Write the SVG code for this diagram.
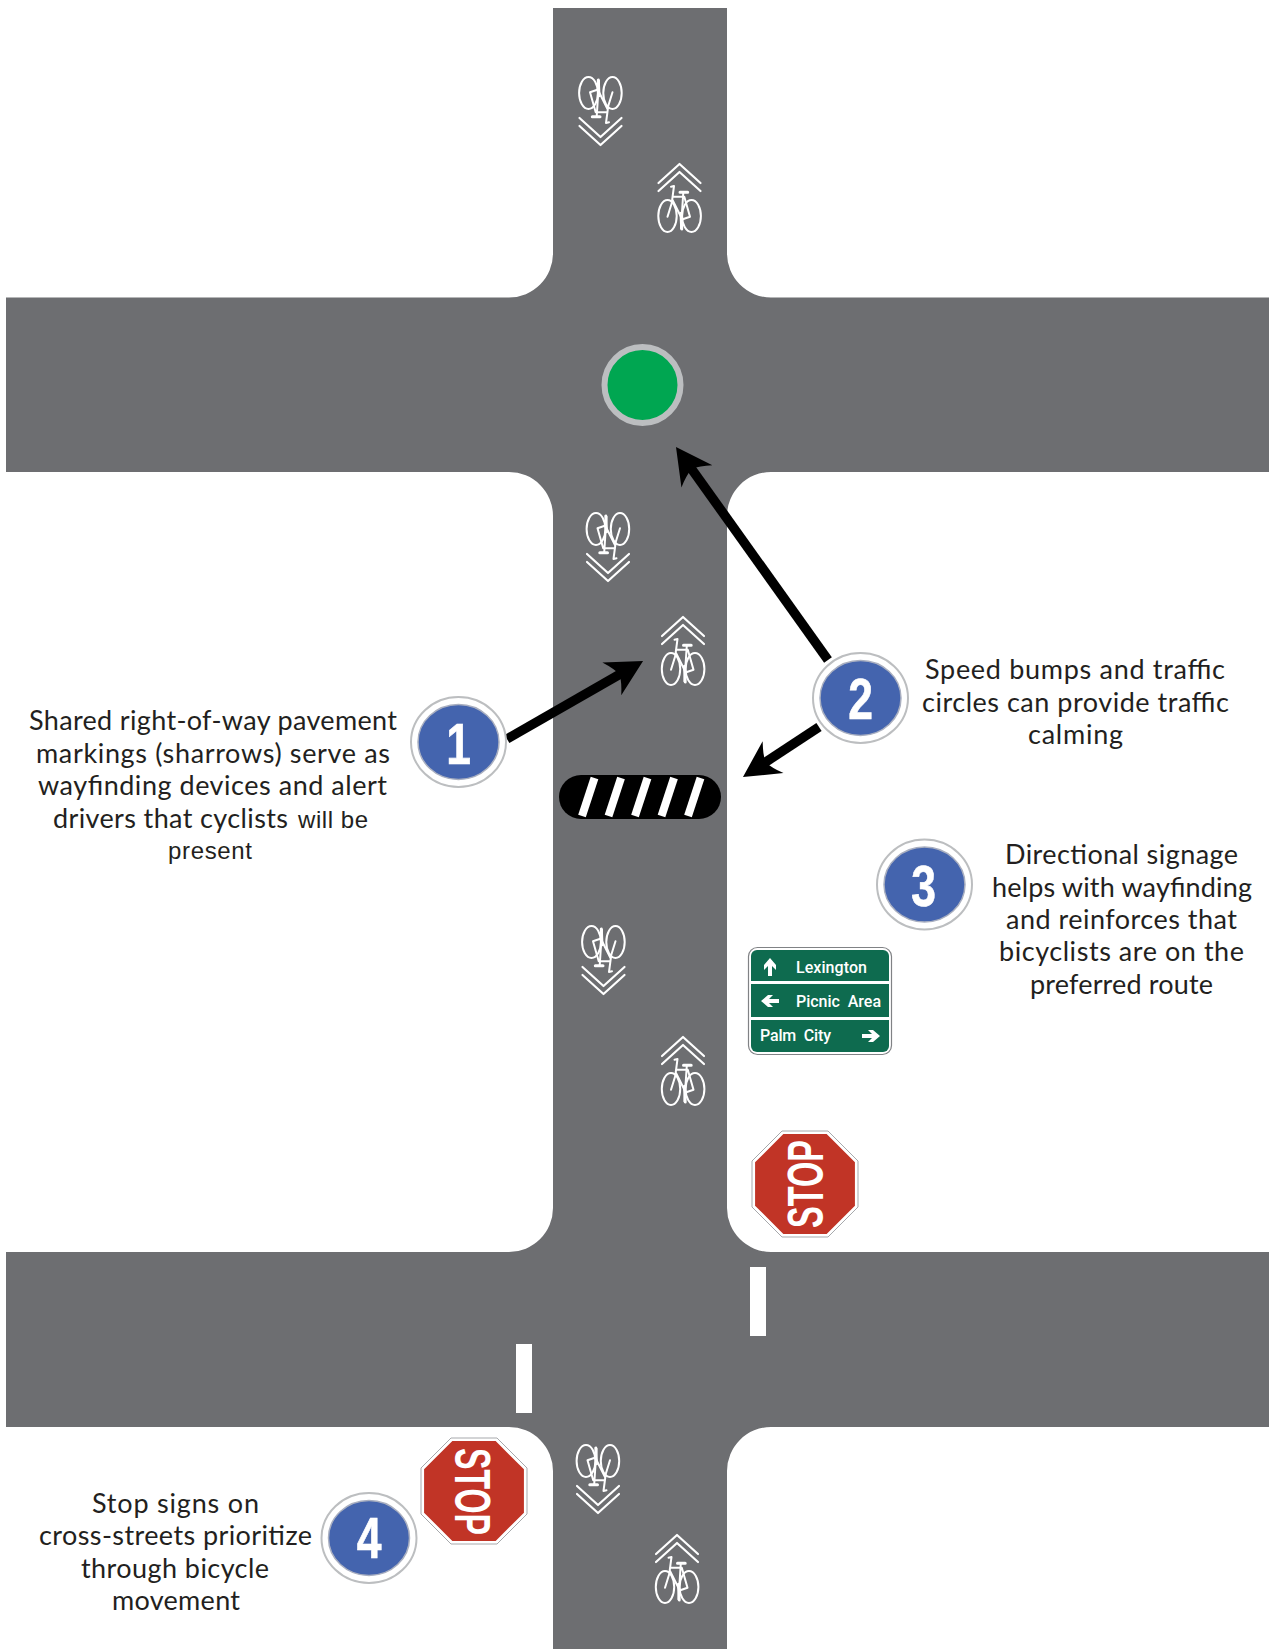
<svg xmlns="http://www.w3.org/2000/svg" width="1269" height="1649" viewBox="0 0 1269 1649">
<style>
.cap{font-family:"Lato","Noto Sans",sans-serif;font-size:27px;fill:#231f20}
.cap2{font-family:"Liberation Sans",Arial,sans-serif;font-size:24px;fill:#231f20}
.sgn{font-family:"Roboto","Liberation Sans",sans-serif;font-weight:500;font-size:16px;fill:#fff;white-space:pre}
.stop{font-family:"Liberation Sans",Arial,sans-serif;font-weight:700;font-size:50px;fill:#fff}
.num{font-family:"Liberation Sans",Arial,sans-serif;font-weight:700;font-size:57px;fill:#fff;text-anchor:middle;stroke:#fff;stroke-width:.6}
.ring{fill:#fff;stroke:#bcbec0;stroke-width:2}
.disc{fill:#4464ae;stroke:#a9afc0;stroke-width:1.5}
.shaft{stroke:#000;stroke-width:9.5;fill:none;marker-end:url(#head)}
.oct{fill:#c13426;stroke:#fff;stroke-width:2}
.octo{fill:#fff;stroke:#a7a9ac;stroke-width:1}
.ln{fill:none;stroke:#fff;stroke-linecap:round;stroke-linejoin:round}
</style>
<defs>
<marker id="head" markerUnits="userSpaceOnUse" markerWidth="42" markerHeight="44" viewBox="-40 -22 42 44" refX="-26" refY="0" orient="auto">
<path d="M0,0 L-36,-19 Q-29,-8 -27,0 Q-29,8 -36,19 Z" fill="#000"/>
</marker>
<g id="sharrow">
<path class="ln" stroke-width="2.2" stroke-linecap="butt" d="M-21,-16 L0,-35 L21,-16 M-21,-8 L0,-27 L21,-8"/>
<ellipse class="ln" stroke-width="2" cx="-12" cy="17" rx="9.2" ry="16"/>
<ellipse class="ln" stroke-width="2" cx="12" cy="17" rx="9.4" ry="16"/>
<path class="ln" stroke-width="2" d="M-8.5,-12.3 L-5.5,-13 L-7.8,4.3 L-12,17.7 M-7,-2.3 L4.8,-2.3 L10.5,17.7 L3.2,20.3 M-7,1 L2.2,19.3 M3.8,-6.7 L1.5,29.3"/>
<path class="ln" stroke-width="3" d="M0.5,-6.7 L8.2,-6.7 M1.5,14.3 L2.2,30"/>
</g>
<polygon id="sarrow" fill="#fff" points="-9,-2 1,-2 -3,-6 2,-6 9,0 2,6 -3,6 1,2 -9,2"/>
<polygon id="octagon" points="-23,-53 23,-53 53,-23 53,23 23,53 -23,53 -53,23 -53,-23"/>
</defs>
<rect width="1269" height="1649" fill="#fff"/>
<path id="road" fill="#6d6e71" d="M553 8H727V253.5A44 44 0 0 0 771 297.5H1269V472H771A44 44 0 0 0 727 516V1208A44 44 0 0 0 771 1252H1269V1427H771A44 44 0 0 0 727 1471V1649H553V1471A44 44 0 0 0 509 1427H6V1252H509A44 44 0 0 0 553 1208V516A44 44 0 0 0 509 472H6V297.5H509A44 44 0 0 0 553 253.5Z"/>
<g id="stop-bars" fill="#fff">
<rect x="750" y="1267" width="16" height="69"/>
<rect x="516" y="1344" width="16" height="69"/>
</g>
<g id="sharrows">
<use href="#sharrow" transform="translate(600.5,110) rotate(180)"/>
<use href="#sharrow" transform="translate(679.5,199)"/>
<use href="#sharrow" transform="translate(608,546) rotate(180)"/>
<use href="#sharrow" transform="translate(683,652)"/>
<use href="#sharrow" transform="translate(603.5,959) rotate(180)"/>
<use href="#sharrow" transform="translate(683,1072)"/>
<use href="#sharrow" transform="translate(598,1478) rotate(180)"/>
<use href="#sharrow" transform="translate(677,1570)"/>
</g>
<g id="traffic-circle"><circle cx="642.5" cy="385" r="38" fill="#00a651" stroke="#bcbec0" stroke-width="6"/></g>
<g id="speed-bump">
<rect x="559" y="775" width="162" height="44" rx="22" fill="#000"/>
<g stroke="#fff" stroke-width="8" fill="none">
<path d="M594.5,778 L582,816"/><path d="M621,778 L608.5,816"/><path d="M647.5,778 L635,816"/><path d="M674,778 L661.5,816"/><path d="M700.5,778 L688,816"/>
</g>
</g>
<g id="connectors">
<line class="shaft" x1="507" y1="739" x2="620.5" y2="673.9"/>
<line class="shaft" x1="828" y1="660" x2="691.1" y2="468.2"/>
<line class="shaft" x1="819" y1="727" x2="764.7" y2="762.7"/>
</g>
<g id="directional-sign">
<rect x="748.5" y="947.5" width="143" height="107" rx="9" fill="#fff" stroke="#808285" stroke-width="1.2"/>
<rect x="751" y="950" width="138" height="102" rx="6" fill="#0e6b4f"/>
<rect x="751" y="981" width="138" height="3" fill="#fff"/>
<rect x="751" y="1017" width="138" height="3" fill="#fff"/>
<use href="#sarrow" transform="translate(770,967) rotate(-90)"/>
<use href="#sarrow" transform="translate(770,1001) rotate(180)"/>
<use href="#sarrow" transform="translate(871,1036)"/>
<text class="sgn" x="796" y="973" textLength="71">Lexington</text>
<text class="sgn" x="796" y="1007" textLength="85">Picnic  Area</text>
<text class="sgn" x="760" y="1041" textLength="71">Palm  City</text>
</g>
<g id="stop-sign-1">
<use href="#octagon" class="octo" transform="translate(805,1184)"/>
<use href="#octagon" class="oct" transform="translate(805,1184) scale(.96)"/>
<text class="stop" transform="translate(823,1228) rotate(-90)" textLength="88" lengthAdjust="spacingAndGlyphs">STOP</text>
</g>
<g id="stop-sign-2">
<use href="#octagon" class="octo" transform="translate(474,1491)"/>
<use href="#octagon" class="oct" transform="translate(474,1491) scale(.96)"/>
<text class="stop" transform="translate(455,1448) rotate(90)" textLength="87" lengthAdjust="spacingAndGlyphs">STOP</text>
</g>
<g id="badge-1">
<ellipse class="ring" cx="458.5" cy="742" rx="47.5" ry="45"/>
<ellipse class="disc" cx="458.5" cy="742" rx="40.5" ry="37.5"/>
<text class="num" transform="translate(458.5,764) scale(.78,1)">1</text>
</g>
<g id="badge-2">
<ellipse class="ring" cx="860.5" cy="698" rx="47.5" ry="45"/>
<ellipse class="disc" cx="860.5" cy="698" rx="40.5" ry="37.5"/>
<text class="num" transform="translate(860.5,718.5) scale(.78,1)">2</text>
</g>
<g id="badge-3">
<ellipse class="ring" cx="924.5" cy="884.5" rx="47.5" ry="45"/>
<ellipse class="disc" cx="924.5" cy="884.5" rx="40.5" ry="37.5"/>
<text class="num" transform="translate(923.5,905.5) scale(.78,1)">3</text>
</g>
<g id="badge-4">
<ellipse class="ring" cx="369" cy="1538" rx="47.5" ry="45"/>
<ellipse class="disc" cx="369" cy="1538" rx="40.5" ry="37.5"/>
<text class="num" transform="translate(369,1558) scale(.78,1)">4</text>
</g>
<g id="caption-1" transform="translate(0,.7)">
<text class="cap" x="29" y="729" textLength="368">Shared right-of-way pavement</text>
<text class="cap" x="36" y="762" textLength="354">markings (sharrows) serve as</text>
<text class="cap" x="38" y="794" textLength="349">wayfinding devices and alert</text>
<text class="cap" x="53" y="827" textLength="235">drivers that cyclists</text>
<text class="cap2" x="298" y="827" textLength="70">will be</text>
<text class="cap2" x="168" y="858" textLength="84">present</text>
</g>
<g id="caption-2" transform="translate(0,.7)">
<text class="cap" x="925" y="678" textLength="300">Speed bumps and traffic</text>
<text class="cap" x="922" y="711" textLength="307">circles can provide traffic</text>
<text class="cap" x="1028" y="743" textLength="95">calming</text>
</g>
<g id="caption-3" transform="translate(0,.7)">
<text class="cap" x="1005" y="863" textLength="233">Directional signage</text>
<text class="cap" x="992" y="896" textLength="260">helps with wayfinding</text>
<text class="cap" x="1006" y="928" textLength="231">and reinforces that</text>
<text class="cap" x="999" y="960" textLength="245">bicyclists are on the</text>
<text class="cap" x="1030" y="993" textLength="183">preferred route</text>
</g>
<g id="caption-4" transform="translate(0,.7)">
<text class="cap" x="92" y="1512" textLength="167">Stop signs on</text>
<text class="cap" x="39" y="1544" textLength="273">cross-streets prioritize</text>
<text class="cap" x="81" y="1577" textLength="188">through bicycle</text>
<text class="cap" x="112" y="1609" textLength="128">movement</text>
</g>
</svg>
